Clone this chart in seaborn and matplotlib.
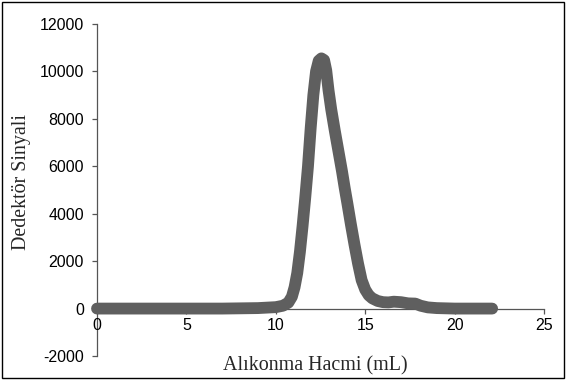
import numpy as np
import pandas as pd
import matplotlib
matplotlib.use('Agg')
import matplotlib.pyplot as plt
from matplotlib.patches import Rectangle
import seaborn as sns

# data
volume = [0, 1, 2, 3, 4, 5, 6, 7, 8, 9, 9.5, 10.0, 10.4, 10.7, 10.9, 11.05, 11.2, 11.35,
          11.5, 11.65, 11.8, 11.95, 12.1, 12.25, 12.4, 12.55, 12.7, 12.82, 12.95, 13.1,
          13.3, 13.5, 13.7, 13.85, 14.0, 14.2, 14.4, 14.6, 14.8, 15.0, 15.2, 15.4, 15.7,
          16.0, 16.3, 16.6, 17.0, 17.4, 17.8, 18.1, 18.5, 19.0, 20.0, 21.0, 22.1]
signal = [0, 0, 0, 0, 0, 0, 0, 0, 10, 20, 40, 60, 120, 250, 500, 900, 1500, 2400,
          3500, 4700, 6000, 7600, 9000, 10000, 10450, 10550, 10480, 10050, 9200, 8400,
          7500, 6650, 5800, 5100, 4450, 3550, 2700, 1900, 1200, 800, 560, 430, 320,
          270, 260, 290, 270, 220, 210, 120, 50, 20, 0, 0, 0]

df = pd.DataFrame({'volume': volume, 'signal': signal})

sns.set_style('white')
plt.rcParams['axes.unicode_minus'] = False
fig = plt.figure(figsize=(5.67, 3.8), dpi=100)
ax = fig.add_axes([97/567, 24/380, (544-97)/567, (356-24)/380])

line_color = '#5f5f5f'
sns.lineplot(data=df, x='volume', y='signal', color=line_color, linewidth=8.5,
             sort=False, ax=ax)
for ln in ax.lines:
    ln.set_solid_capstyle('round')
    ln.set_solid_joinstyle('round')
    ln.set_clip_on(False)

ax.set_xlim(0, 25)
ax.set_ylim(-2000, 12000)
ax.set_xticks([0, 5, 10, 15, 20, 25])
ax.set_yticks(np.arange(-2000, 12001, 2000))

ax.spines['top'].set_visible(False)
ax.spines['right'].set_visible(False)
ax.spines['bottom'].set_position(('data', 0))
for s in ['left', 'bottom']:
    ax.spines[s].set_color('#555555')
    ax.spines[s].set_linewidth(0.9)
    ax.spines[s].set_zorder(0)

ax.tick_params(axis='both', direction='out', length=3.5, width=0.9, color='#555555',
               labelsize=11.5, labelcolor='black', left=True, bottom=True)
ax.tick_params(axis='y', pad=6)
ax.tick_params(axis='x', pad=3)
for lab in ax.get_xticklabels() + ax.get_yticklabels():
    lab.set_family(['Liberation Sans', 'DejaVu Sans'])

ax.set_xlabel('')
ax.set_ylabel('')
fig.text(315/567, 1 - 366/380, 'Alıkonma Hacmi (mL)', ha='center', va='center',
         fontsize=14.4, family=['Liberation Serif', 'DejaVu Serif'])
fig.text(22/567, 1 - 182/380, 'Dedektör Sinyali', ha='center', va='center',
         rotation=90, fontsize=14.4, family=['Liberation Serif', 'DejaVu Serif'])

fig.patches.append(Rectangle((2/567, 2/380), 562/567, 376/380, transform=fig.transFigure,
                             fill=False, edgecolor='black', linewidth=1))

fig.savefig('out.png', dpi=100)
